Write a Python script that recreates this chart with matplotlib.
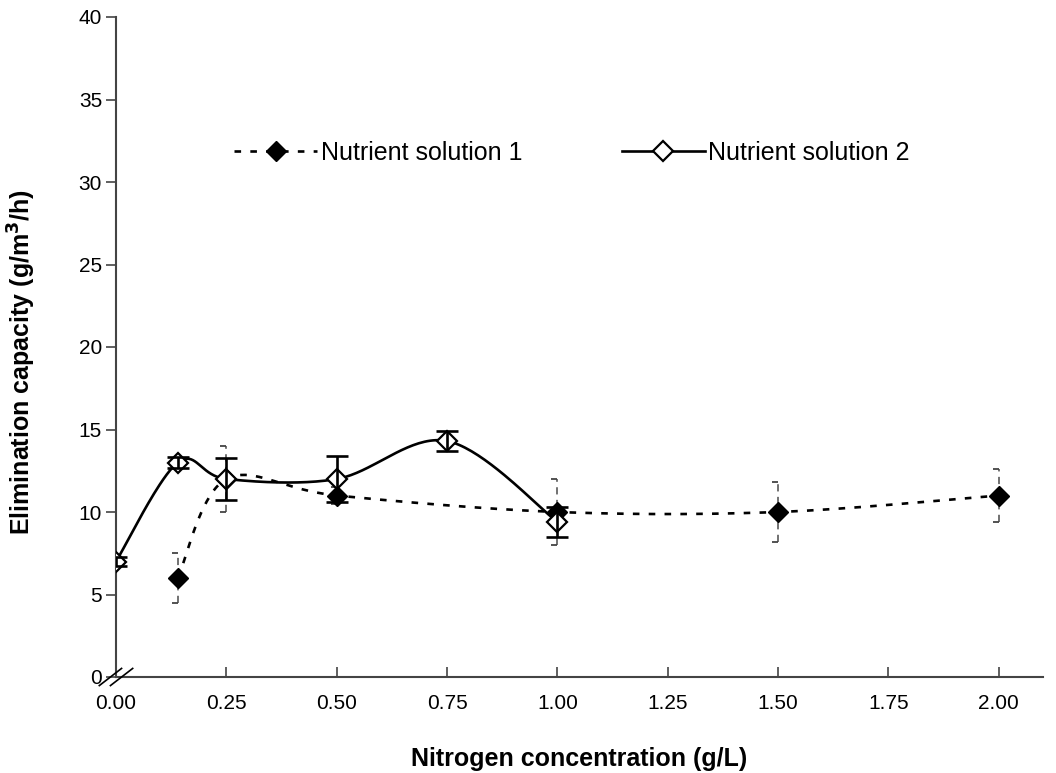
import numpy as np
import matplotlib
matplotlib.use("Agg")
import matplotlib.pyplot as plt

plt.rcParams['font.family'] = ['Liberation Sans', 'DejaVu Sans']

# Data
x1 = [0.14, 0.25, 0.50, 1.00, 1.50, 2.00]
y1 = [6.0, 12.0, 11.0, 10.0, 10.0, 11.0]
e1 = [1.5, 2.0, 0.5, 2.0, 1.8, 1.6]

x2 = [0.00, 0.14, 0.25, 0.50, 0.75, 1.00]
y2 = [7.0, 13.0, 12.0, 12.0, 14.3, 9.4]
e2 = [0.3, 0.35, 1.25, 1.4, 0.6, 0.9]

label1 = "Nutrient solution 1"
label2 = "Nutrient solution 2"
xticks = [0.00, 0.25, 0.50, 0.75, 1.00, 1.25, 1.50, 1.75, 2.00]
yticks = [0, 5, 10, 15, 20, 25, 30, 35, 40]
xlim = (0, 2.1)
ylim = (0, 40)

W, H = 1056, 773
fig = plt.figure(figsize=(W / 100, H / 100), dpi=100)
ax = fig.add_axes([116 / W, 1 - 677 / H, (1043 - 116) / W, (677 - 17) / H])
ax.set_xlim(*xlim)
ax.set_ylim(*ylim)

# pixel scale for smoothing in screen space
sx = (1043 - 116) / (xlim[1] - xlim[0])
sy = (677 - 17) / (ylim[1] - ylim[0])


def smooth(xs, ys, n=40):
    P = np.column_stack([np.asarray(xs) * sx, np.asarray(ys) * sy])
    out = []
    m = len(P)
    for i in range(m - 1):
        p0 = P[i - 1] if i > 0 else P[i]
        p1 = P[i]
        p2 = P[i + 1]
        p3 = P[i + 2] if i + 2 < m else P[i + 1]
        c1 = p1 + (p2 - p0) / 6.0
        c2 = p2 - (p3 - p1) / 6.0
        t = np.linspace(0, 1, n)[:, None]
        seg = ((1 - t) ** 3) * p1 + 3 * ((1 - t) ** 2) * t * c1 + 3 * (1 - t) * t ** 2 * c2 + t ** 3 * p2
        if i > 0:
            seg = seg[1:]
        out.append(seg)
    out = np.vstack(out)
    return out[:, 0] / sx, out[:, 1] / sy


lw = 1.9
dash = (0, (2.5, 3.5))
ms = 10
# Series 1 smooth dashed line
sx1, sy1 = smooth(x1, y1)
ax.plot(sx1, sy1, color='black', lw=lw, linestyle=dash, zorder=3)
# Series 2 smooth solid line
sx2, sy2 = smooth(x2, y2)
ax.plot(sx2, sy2, color='black', lw=lw, linestyle='-', zorder=3)

# Series 1 error bars: grey dashed, half caps to the left
ax.vlines(x1, np.array(y1) - np.array(e1), np.array(y1) + np.array(e1),
          colors='#666666', linestyles=(0, (4, 3)), lw=1.3, zorder=2)
halfcap = [(-1, 0), (0, 0)]
ax.plot(x1, np.array(y1) + np.array(e1), linestyle='none', marker=halfcap,
        markersize=9, markeredgecolor='#444444', markeredgewidth=1.3, zorder=2)
ax.plot(x1, np.array(y1) - np.array(e1), linestyle='none', marker=halfcap,
        markersize=9, markeredgecolor='#444444', markeredgewidth=1.3, zorder=2)

# Markers
ax.plot(x1, y1, linestyle='none', marker='D', markersize=ms, markerfacecolor='black',
        markeredgecolor='black', zorder=4)
ax.plot(x2, y2, linestyle='none', marker='D', markersize=ms, markerfacecolor='white',
        markeredgecolor='black', markeredgewidth=1.6, zorder=4)

# Series 2 error bars: solid with caps, above markers
ax.errorbar(x2, y2, yerr=e2, fmt='none', ecolor='black', elinewidth=1.9,
            capsize=8, capthick=1.9, zorder=5)

# Legend proxies
h1, = ax.plot([], [], color='black', lw=lw, linestyle=dash, marker='D',
              markersize=ms, markerfacecolor='black', markeredgecolor='black')
h2, = ax.plot([], [], color='black', lw=lw, linestyle='-', marker='D',
              markersize=ms, markerfacecolor='white', markeredgecolor='black',
              markeredgewidth=1.6)
leg = ax.legend([h1, h2], [label1, label2], ncol=2, frameon=False,
                loc='center', bbox_to_anchor=(0.492, 0.794), fontsize=18,
                handlelength=3.3, columnspacing=4.0, handletextpad=0.15)

# Spines & ticks
for s in ['top', 'right']:
    ax.spines[s].set_visible(False)
for s in ['left', 'bottom']:
    ax.spines[s].set_color('#444444')
    ax.spines[s].set_linewidth(1.5)
ax.set_xticks(xticks)
ax.set_xticklabels([f"{v:.2f}" for v in xticks])
ax.set_yticks(yticks)
ax.set_yticklabels([str(v) for v in yticks])
ax.tick_params(axis='x', direction='in', length=7, width=1.2, color='#444444',
               labelsize=15, pad=12)
ax.tick_params(axis='y', direction='out', length=7, width=1.2, color='#444444',
               labelsize=15, pad=3)

# Axis break marks at origin
for off in (-0.006, 0.006):
    ax.plot([-0.012 + off, 0.012 + off], [-0.013, 0.013], transform=ax.transAxes,
            color='black', lw=1.2, clip_on=False, zorder=6)

fig.text((116 + 1043) / 2 / W, 1 - 759 / H, "Nitrogen concentration (g/L)",
         fontsize=18, fontweight='bold', ha='center', va='center')
fig.text(22 / W, 1 - 362 / H, "Elimination capacity (g/m$^\\mathbf{3}$/h)",
         fontsize=18, fontweight='bold', ha='center', va='center', rotation=90)

fig.savefig("out.png", dpi=100)
